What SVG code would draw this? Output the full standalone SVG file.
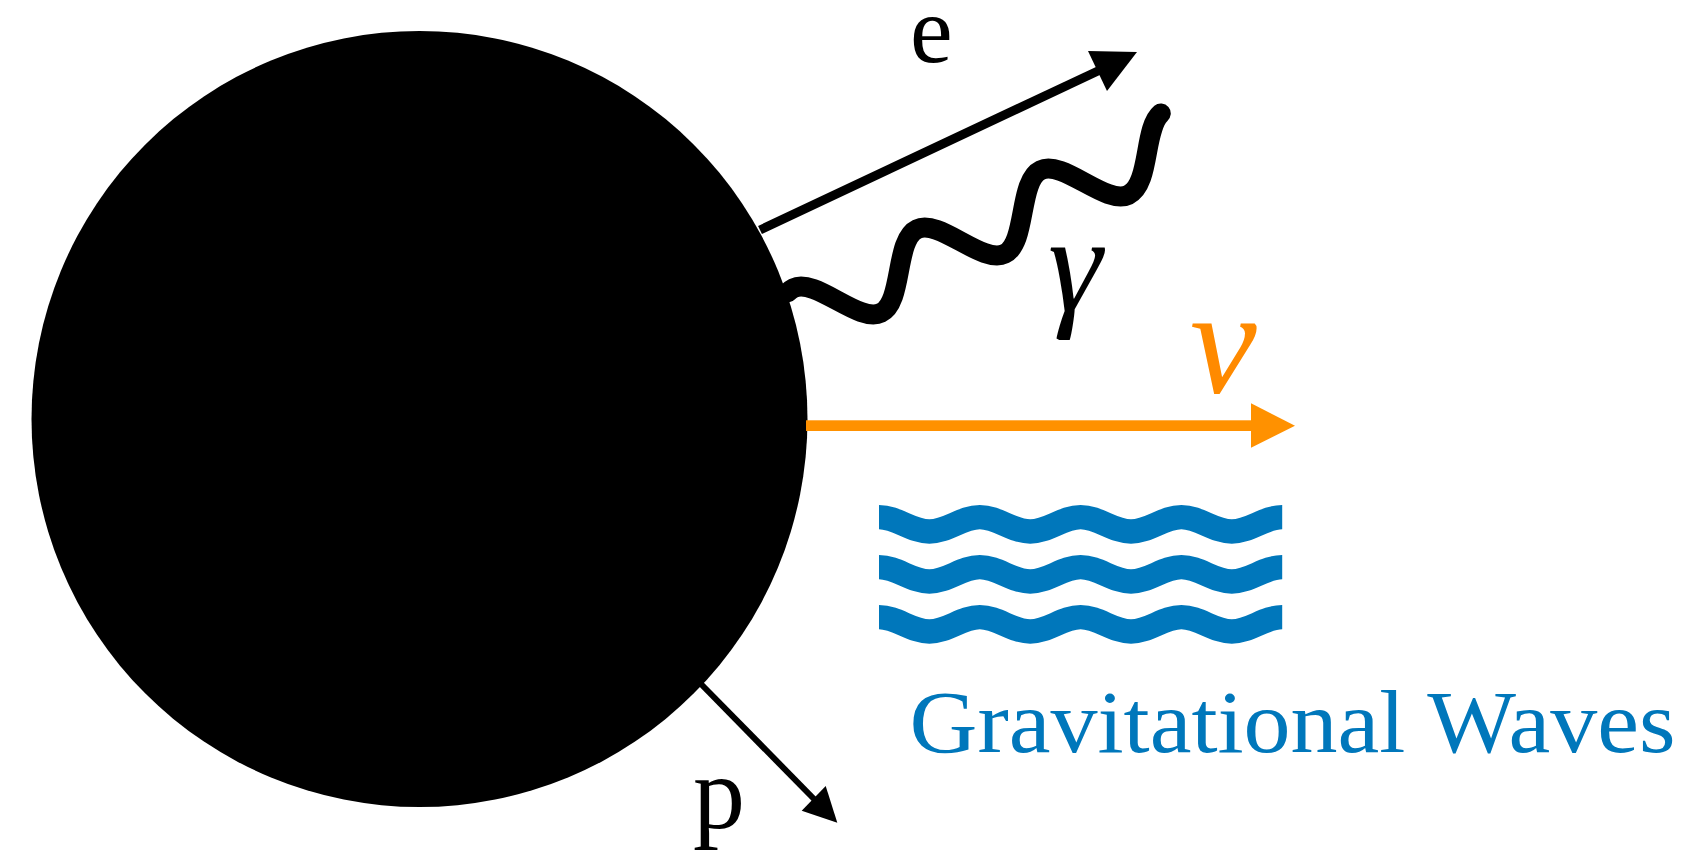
<svg xmlns="http://www.w3.org/2000/svg" width="1696" height="858" viewBox="0 0 1696 858">
<style>
.lbl{font-family:"Liberation Serif","DejaVu Serif",serif;fill:#000}
.it{font-style:italic}
.wave{fill:none;stroke:#0077bb;stroke-width:24.3;stroke-linecap:butt}
.blk{stroke:#000;fill:none}
</style>
<rect width="1696" height="858" fill="#fff"/>
<g id="star">
<circle cx="419.5" cy="419" r="388" fill="#000"/>
</g>
<g id="connectors">
<g id="electron-arrow">
<line class="blk" x1="760" y1="230" x2="1100" y2="70" stroke-width="9"/>
<polygon points="1088,51 1137,52 1107,91" fill="#000"/>
</g>
<g id="proton-arrow">
<line class="blk" x1="700" y1="683" x2="815" y2="800" stroke-width="6"/>
<polygon points="801.7,810.7 837.3,822.7 825.7,786" fill="#000"/>
</g>
<g id="neutrino-arrow">
<rect x="806" y="420.3" width="447" height="10.7" fill="#ff9100"/>
<polygon points="1251,403.3 1295,425.7 1251,447.7" fill="#ff9100"/>
</g>
<g id="photon">
<path transform="translate(899,271) rotate(-25.5)" fill="none" stroke="#000" stroke-width="20" stroke-linecap="round" d="M-109.6,-28.5 Q-106.07,-30 -102.75,-30 C-77.86,-30 -59.14,30 -34.25,30 S9.36,-30 34.25,-30 S77.86,30 102.75,30 S146.36,-30 171.25,-30 S214.86,30 239.75,30 S282.1,-23.8 304.1,-29.47"/>
</g>
</g>
<g id="gravitational-waves">
<path class="wave" d="M879,517.2 c18.3,0 32.1,14.3 50.4,14.3 s32.1,-14.3 50.4,-14.3 s32.1,14.3 50.4,14.3 s32.1,-14.3 50.4,-14.3 s32.1,14.3 50.4,14.3 s32.1,-14.3 50.4,-14.3 s32.1,14.3 50.4,14.3 s32.1,-14.3 50.4,-14.3"/>
<path class="wave" d="M879,567.2 c18.3,0 32.1,14.3 50.4,14.3 s32.1,-14.3 50.4,-14.3 s32.1,14.3 50.4,14.3 s32.1,-14.3 50.4,-14.3 s32.1,14.3 50.4,14.3 s32.1,-14.3 50.4,-14.3 s32.1,14.3 50.4,14.3 s32.1,-14.3 50.4,-14.3"/>
<path class="wave" d="M879,617.2 c18.3,0 32.1,14.3 50.4,14.3 s32.1,-14.3 50.4,-14.3 s32.1,14.3 50.4,14.3 s32.1,-14.3 50.4,-14.3 s32.1,14.3 50.4,14.3 s32.1,-14.3 50.4,-14.3 s32.1,14.3 50.4,14.3 s32.1,-14.3 50.4,-14.3"/>
<text class="lbl" x="909.5" y="752" font-size="88" textLength="766" lengthAdjust="spacingAndGlyphs" style="fill:#0077bb">Gravitational Waves</text>
</g>
<g id="labels">
<text id="label-e" class="lbl" x="910" y="62" font-size="96">e</text>
<text id="label-p" class="lbl" x="693" y="828" font-size="104">p</text>
<text id="label-gamma" class="lbl it" x="1048" y="311" font-size="137">γ</text>
<text id="label-nu" class="lbl it" x="1190" y="393" font-size="150" style="fill:#ff8a00">ν</text>
</g>
</svg>
